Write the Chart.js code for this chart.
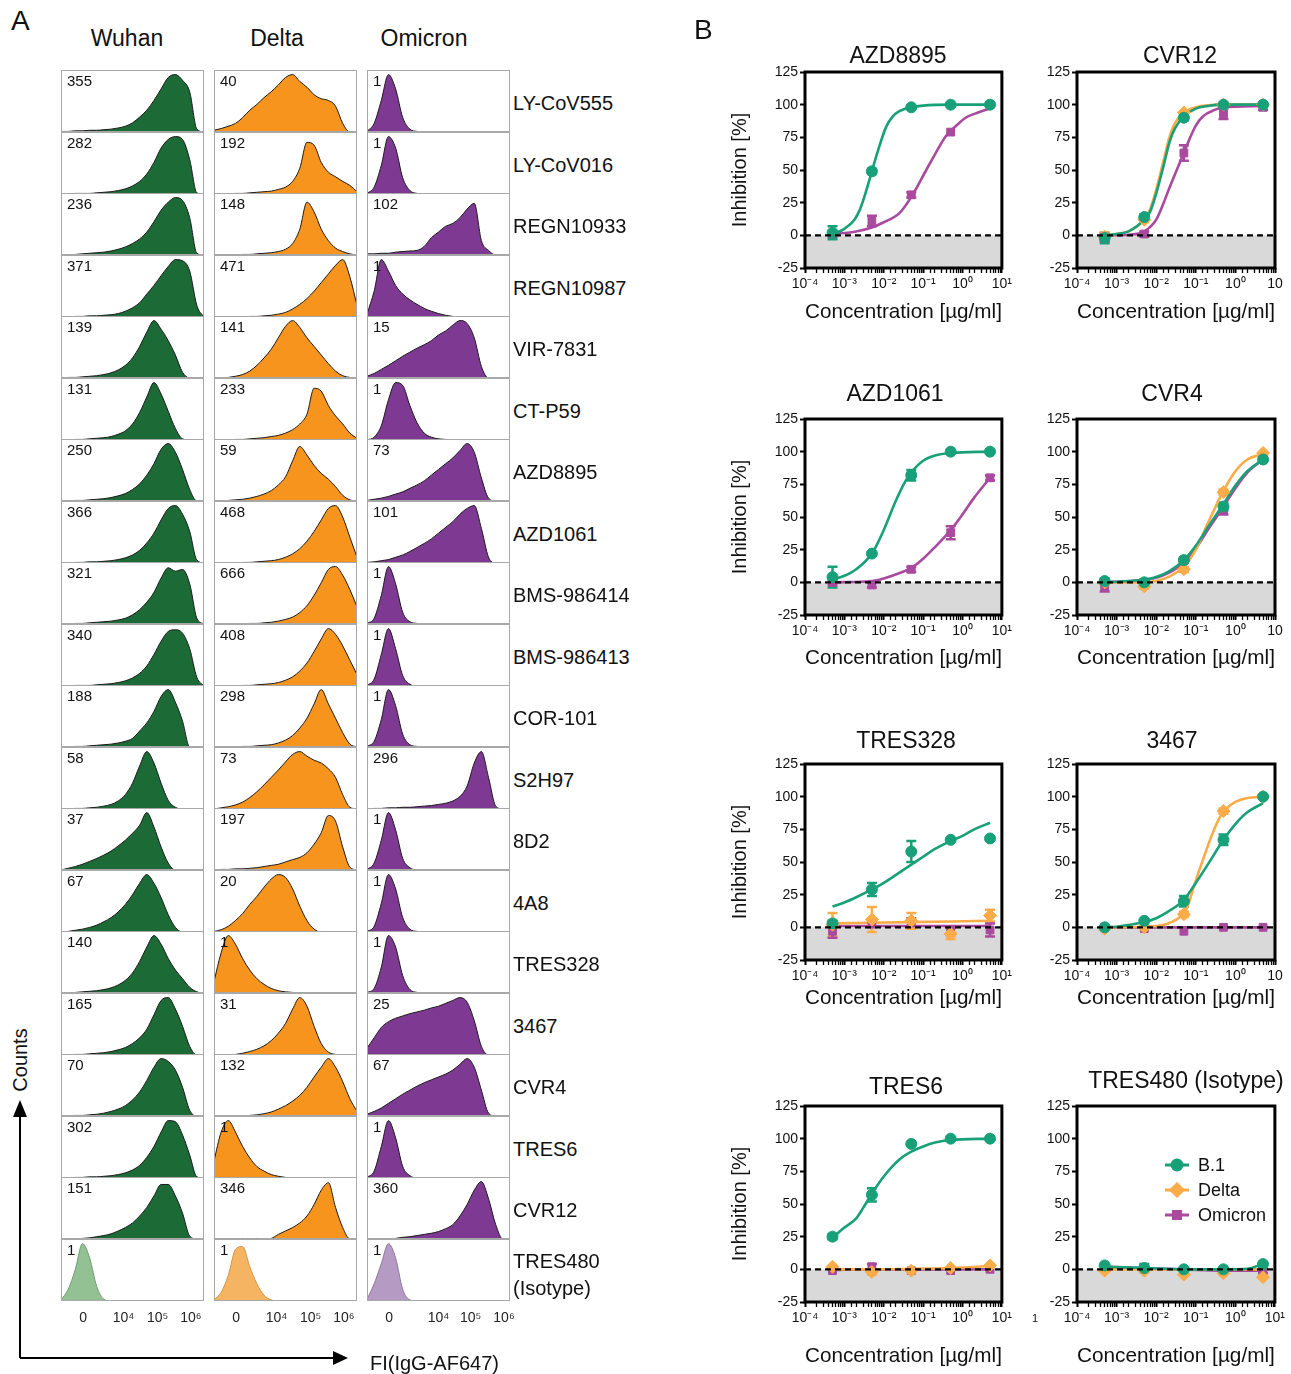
<!DOCTYPE html>
<html>
<head>
<meta charset="utf-8">
<script src="https://cdn.jsdelivr.net/npm/chart.js@4.4.1/dist/chart.umd.min.js"></script>
<style>
  body { margin: 0; background: #fff; }
  #page { position: relative; width: 1291px; height: 1374px; overflow: hidden; background: #fff;
          font-family: "Liberation Sans", Arial, Helvetica, sans-serif; color: #111; }
  .txt { position: absolute; white-space: pre; line-height: 1.15; }
  canvas { position: absolute; }
  svg { position: absolute; left: 0; top: 0; }
</style>
</head>
<body>
<div id="page"></div>
<script>
// ---------- Panel A: flow cytometry histograms ----------
const STRAINS = ['Wuhan', 'Delta', 'Omicron'];
const ANTIBODIES = ['LY-CoV555', 'LY-CoV016', 'REGN10933', 'REGN10987', 'VIR-7831', 'CT-P59', 'AZD8895', 'AZD1061',
    'BMS-986414', 'BMS-986413', 'COR-101', 'S2H97', '8D2', '4A8', 'TRES328', '3467', 'CVR4', 'TRES6', 'CVR12',
    'TRES480\n(Isotype)'];
const WUHAN_MFI = ['355', '282', '236', '371', '139', '131', '250', '366', '321', '340', '188', '58', '37', '67', '140', '165', '70', '302', '151', '1'];
const DELTA_MFI = ['40', '192', '148', '471', '141', '233', '59', '468', '666', '408', '298', '73', '197', '20', '1', '31', '132', '1', '346', '1'];
const OMICRON_MFI = ['1', '1', '102', '1', '15', '1', '73', '101', '1', '1', '1', '296', '1', '1', '1', '25', '67', '1', '360', '1'];

// fluorescence channel bins (display scale 0..100) and the labelled ticks
const FI_BINS = [0, 5, 10, 15, 20, 25, 30, 35, 40, 45, 50, 55, 60, 65, 70, 75, 80, 85, 90, 95, 100];
const FI_TICK_LABELS = ['0', '10⁴', '10⁵', '10⁶'];
const FI_TICKS = [[15.5, 43.7, 67.6, 90.8], [15.5, 43.7, 67.6, 90.8], [15.5, 50, 72.5, 95.8]];

// relative counts per bin, one row per antibody
const WUHAN_HIST = [
    [1, 1, 2, 2, 3, 3, 4, 5, 7, 10, 16, 26, 38, 55, 75, 95, 100, 90, 70, 5, 0],
    [0, 0, 1, 1, 1, 2, 3, 4, 6, 9, 14, 22, 35, 55, 80, 95, 100, 95, 60, 2, 0],
    [0, 0, 1, 2, 3, 4, 5, 7, 10, 14, 20, 28, 40, 58, 78, 92, 100, 95, 65, 3, 0],
    [0, 0, 1, 1, 2, 2, 3, 4, 6, 10, 16, 25, 40, 55, 72, 88, 100, 98, 80, 20, 0],
    [0, 1, 1, 2, 3, 4, 6, 9, 14, 22, 35, 55, 80, 100, 85, 65, 40, 10, 0, 0, 0],
    [0, 0, 1, 1, 2, 3, 4, 6, 10, 16, 28, 48, 75, 100, 80, 50, 20, 2, 0, 0, 0],
    [0, 0, 1, 1, 2, 3, 4, 6, 9, 13, 20, 30, 45, 65, 90, 100, 85, 55, 20, 0, 0],
    [0, 0, 1, 1, 2, 2, 3, 4, 6, 9, 14, 22, 35, 52, 75, 95, 100, 85, 55, 5, 0],
    [0, 0, 1, 1, 2, 3, 4, 5, 7, 10, 16, 25, 38, 55, 80, 98, 92, 95, 70, 10, 0],
    [0, 0, 1, 1, 1, 2, 3, 4, 6, 9, 14, 22, 35, 55, 78, 95, 98, 92, 65, 15, 0],
    [0, 0, 1, 1, 2, 3, 4, 5, 7, 10, 15, 28, 42, 62, 88, 100, 78, 45, 0, 0, 0],
    [0, 0, 1, 1, 2, 3, 5, 8, 14, 25, 45, 75, 100, 80, 45, 15, 3, 0, 0, 0, 0],
    [0, 3, 6, 10, 15, 20, 26, 33, 42, 52, 64, 78, 100, 75, 40, 12, 0, 0, 0, 0, 0],
    [0, 1, 3, 5, 8, 12, 18, 25, 35, 48, 65, 85, 100, 85, 60, 30, 8, 0, 0, 0, 0],
    [0, 0, 1, 2, 3, 4, 6, 9, 14, 22, 35, 55, 80, 100, 85, 60, 40, 25, 10, 2, 0],
    [0, 0, 1, 1, 2, 3, 4, 6, 9, 13, 20, 30, 45, 70, 95, 100, 80, 50, 15, 0, 0],
    [0, 0, 1, 1, 2, 3, 5, 8, 12, 18, 28, 42, 62, 85, 100, 95, 80, 50, 10, 0, 0],
    [0, 0, 1, 1, 2, 2, 3, 4, 6, 9, 14, 22, 36, 55, 80, 100, 98, 75, 40, 2, 0],
    [0, 0, 0, 1, 2, 4, 6, 9, 14, 20, 28, 40, 55, 75, 95, 95, 75, 45, 5, 0, 0],
    [2, 20, 55, 100, 75, 25, 3, 0, 0, 0, 0, 0, 0, 0, 0, 0, 0, 0, 0, 0, 0]
];
const DELTA_HIST = [
    [3, 6, 10, 15, 25, 38, 48, 60, 70, 82, 95, 100, 88, 78, 65, 58, 55, 45, 15, 0, 0],
    [0, 0, 0, 1, 1, 2, 3, 4, 5, 8, 12, 22, 45, 90, 85, 55, 38, 30, 22, 15, 4],
    [0, 0, 0, 0, 1, 1, 2, 3, 4, 6, 10, 20, 45, 92, 75, 45, 25, 12, 6, 2, 0],
    [0, 0, 0, 0, 0, 1, 1, 2, 3, 5, 8, 14, 22, 32, 45, 60, 75, 90, 100, 70, 20],
    [0, 0, 1, 3, 6, 12, 22, 35, 50, 70, 90, 100, 88, 70, 55, 40, 25, 12, 4, 1, 0],
    [0, 0, 0, 1, 1, 2, 3, 4, 6, 8, 12, 18, 28, 45, 90, 85, 60, 42, 28, 12, 3],
    [0, 0, 1, 2, 3, 5, 8, 12, 18, 28, 42, 70, 95, 80, 62, 48, 38, 25, 10, 2, 0],
    [0, 0, 0, 0, 1, 1, 2, 3, 4, 6, 10, 16, 25, 38, 55, 75, 95, 100, 80, 45, 10],
    [0, 0, 0, 0, 0, 1, 1, 2, 3, 5, 8, 12, 20, 32, 50, 72, 95, 100, 85, 60, 30],
    [0, 0, 0, 0, 1, 1, 2, 3, 4, 6, 10, 16, 26, 40, 60, 82, 100, 90, 70, 45, 20],
    [0, 0, 0, 0, 1, 1, 2, 3, 4, 7, 12, 20, 33, 50, 75, 100, 75, 50, 25, 5, 0],
    [0, 2, 4, 7, 12, 20, 30, 42, 55, 68, 82, 95, 100, 92, 85, 80, 70, 55, 25, 3, 0],
    [0, 1, 1, 2, 2, 3, 4, 6, 8, 10, 14, 18, 22, 30, 45, 65, 95, 85, 40, 5, 0],
    [1, 4, 10, 20, 32, 48, 62, 78, 92, 100, 95, 75, 45, 20, 5, 0, 0, 0, 0, 0, 0],
    [20, 70, 100, 85, 60, 40, 25, 15, 8, 4, 2, 1, 0, 0, 0, 0, 0, 0, 0, 0, 0],
    [0, 0, 0, 1, 3, 6, 10, 16, 25, 38, 55, 80, 100, 85, 50, 20, 5, 1, 0, 0, 0],
    [0, 0, 0, 0, 0, 1, 2, 4, 7, 12, 18, 26, 36, 50, 68, 85, 100, 85, 60, 30, 8],
    [30, 80, 100, 80, 55, 35, 20, 12, 6, 3, 1, 0, 0, 0, 0, 0, 0, 0, 0, 0, 0],
    [0, 0, 0, 0, 1, 0, 1, 0, 1, 8, 14, 20, 28, 40, 60, 85, 98, 55, 20, 0, 0],
    [2, 15, 45, 90, 95, 60, 30, 10, 2, 0, 0, 0, 0, 0, 0, 0, 0, 0, 0, 0, 0]
];
const OMICRON_HIST = [
    [1, 15, 55, 100, 75, 25, 5, 1, 0, 0, 0, 0, 0, 0, 0, 0, 0, 0, 0, 0, 0],
    [1, 12, 50, 100, 80, 28, 6, 1, 0, 0, 0, 0, 0, 0, 0, 0, 0, 0, 0, 0, 0],
    [2, 2, 3, 3, 5, 6, 7, 8, 15, 30, 40, 50, 55, 65, 80, 90, 25, 8, 0, 0, 0],
    [5, 45, 100, 80, 55, 40, 30, 22, 15, 10, 6, 3, 1, 0, 0, 0, 0, 0, 0, 0, 0],
    [3, 8, 15, 22, 30, 38, 45, 52, 58, 65, 75, 82, 92, 100, 95, 70, 20, 0, 0, 0, 0],
    [0, 5, 25, 70, 100, 95, 60, 30, 12, 5, 2, 1, 0, 0, 0, 0, 0, 0, 0, 0, 0],
    [1, 3, 5, 8, 12, 16, 22, 28, 35, 45, 55, 65, 75, 88, 100, 85, 40, 5, 0, 0, 0],
    [1, 2, 4, 6, 10, 14, 20, 27, 34, 42, 52, 62, 72, 85, 95, 100, 60, 10, 0, 0, 0],
    [1, 10, 50, 100, 70, 20, 4, 1, 0, 0, 0, 0, 0, 0, 0, 0, 0, 0, 0, 0, 0],
    [1, 12, 55, 100, 65, 18, 3, 0, 0, 0, 0, 0, 0, 0, 0, 0, 0, 0, 0, 0, 0],
    [1, 10, 48, 100, 72, 22, 4, 1, 0, 0, 0, 0, 0, 0, 0, 0, 0, 0, 0, 0, 0],
    [0, 1, 1, 2, 2, 3, 3, 4, 5, 6, 8, 10, 14, 22, 40, 80, 100, 55, 5, 0, 0],
    [1, 12, 52, 100, 70, 20, 4, 0, 0, 0, 0, 0, 0, 0, 0, 0, 0, 0, 0, 0, 0],
    [1, 10, 50, 100, 75, 25, 5, 1, 0, 0, 0, 0, 0, 0, 0, 0, 0, 0, 0, 0, 0],
    [1, 8, 45, 100, 80, 30, 6, 1, 0, 0, 0, 0, 0, 0, 0, 0, 0, 0, 0, 0, 0],
    [12, 30, 48, 58, 64, 68, 72, 75, 78, 82, 85, 90, 95, 100, 92, 60, 15, 0, 0, 0, 0],
    [3, 8, 14, 22, 30, 38, 45, 52, 58, 63, 68, 73, 80, 90, 100, 85, 45, 5, 0, 0, 0],
    [1, 12, 55, 100, 70, 20, 4, 0, 0, 0, 0, 0, 0, 0, 0, 0, 0, 0, 0, 0, 0],
    [0, 0, 0, 0, 1, 3, 4, 6, 8, 10, 13, 18, 25, 40, 60, 85, 100, 70, 25, 0, 0],
    [3, 30, 65, 100, 75, 20, 2, 0, 0, 0, 0, 0, 0, 0, 0, 0, 0, 0, 0, 0, 0]
];

// ---------- Panel B: neutralisation curves ----------
const PANELS = ['AZD8895', 'CVR12', 'AZD1061', 'CVR4', 'TRES328', '3467', 'TRES6', 'TRES480 (Isotype)'];
const VARIANTS = ['B.1', 'Delta', 'Omicron'];
const CONC = [0.0005, 0.005, 0.05, 0.5, 5];
const Y_TICKS = [-25, 0, 25, 50, 75, 100, 125];
const X_TICK_LABELS = ['10⁻⁴', '10⁻³', '10⁻²', '10⁻¹', '10⁰', '10¹'];
const X_TICK_LABELS_SHORT = ['10⁻⁴', '10⁻³', '10⁻²', '10⁻¹', '10⁰', '10'];

const B1_MEAN = [[2, 49, 98, 100, 100], [-2, 14, 90, 100, 100], [4, 22, 82, 100, 100], [1, 0, 17, 58, 94],
    [3, 29, 58, 67, 68], [0, 5, 20, 67, 100], [25, 57, 96, 100, 100], [3, 1, 0, 0, 4]];
const B1_ERR = [[5, 2, 1, 0, 0], [4, 2, 2, 1, 1], [8, 1, 4, 1, 0], [2, 2, 2, 3, 2],
    [2, 5, 8, 1, 1], [1, 1, 4, 4, 1], [2, 5, 1, 1, 1], [1, 3, 1, 1, 1]];
const DELTA_MEAN = [null, [-1, 12, 94, 100, 100], null, [0, -3, 10, 69, 99],
    [2, 6, 5, -5, 9], [-1, 0, 10, 89, 100], [2, -2, -1, 1, 3], [-1, -1, -4, -3, -6]];
const DELTA_ERR = [null, [3, 2, 1, 1, 1], null, [2, 2, 2, 2, 1],
    [9, 9.5, 6, 4, 4.5], [1, 1, 2, 2, 1], [1, 2, 1, 1, 1], [1, 1, 1, 1, 1]];
const OMICRON_MEAN = [[1, 11, 31, 79, 100], [-2, 1, 63, 93, 98], [0, -2, 10, 38, 80], [-4, 0, 17, 55, 95],
    [-3, 3, 4, -3, -2], [0, -1, -3, 0, 0], [-1, 2, -1, -1, 0], [2, 0, -1, -2, -1]];
const OMICRON_ERR = [[2, 4, 2, 1, 1], [3, 2, 6, 4, 2], [2, 2, 2, 5, 2], [3, 2, 2, 3, 2],
    [5, 3, 3, 3, 5], [1, 1, 1, 1, 1], [1, 2, 1, 1, 1], [1, 1, 1, 1, 2]];

// fitted curves as [concentration, inhibition]
const B1_FIT = [
    [[5e-4, 1], [1e-3, 5], [1.8e-3, 12], [2.5e-3, 20], [3.5e-3, 33], [5e-3, 49], [7e-3, 64], [1.15e-2, 83], [1.7e-2, 91], [2.5e-2, 95], [5e-2, 98], [0.1, 99.3], [0.5, 100], [5, 100]],
    [[5e-4, 0], [1e-3, 1], [2e-3, 3], [5e-3, 12], [7e-3, 18], [1e-2, 32], [1.5e-2, 52], [2.2e-2, 72], [3e-2, 82], [5e-2, 91], [0.1, 97], [0.2, 99], [0.5, 100], [5, 100]],
    [[5e-4, 2], [1e-3, 5], [2e-3, 10], [5e-3, 22], [1e-2, 40], [2e-2, 62], [3.5e-2, 77], [5e-2, 84], [0.1, 93], [0.2, 97], [0.5, 99], [5, 100]],
    [[5e-4, 0], [1e-3, 0.5], [5e-3, 2], [1e-2, 4], [2e-2, 8], [5e-2, 17], [0.1, 28], [0.2, 42], [0.5, 60], [1, 74], [2, 85], [5, 94]],
    [[5e-4, 16], [1e-3, 19], [2e-3, 23], [5e-3, 29], [1e-2, 34], [2e-2, 40], [5e-2, 48], [0.1, 54], [0.2, 60], [0.5, 66], [1, 70], [2, 75], [5, 80]],
    [[5e-4, 0], [1e-3, 0.5], [5e-3, 4], [1e-2, 7], [2e-2, 12], [5e-2, 21], [0.1, 34], [0.2, 48], [0.5, 67], [1, 79], [2, 88], [5, 95]],
    [[5e-4, 24], [7.6e-4, 29], [1e-3, 32], [2e-3, 39], [3e-3, 47], [5e-3, 58], [1e-2, 71], [2.5e-2, 84], [5e-2, 90], [0.1, 94], [0.2, 97], [0.5, 99], [5, 100]],
    [[5e-4, 2], [5e-3, 1], [5e-2, 0], [0.5, 0], [2, 0.5], [5, 4]]
];
const DELTA_FIT = [
    null,
    [[5e-4, 0], [1e-3, 1], [2e-3, 3], [5e-3, 12], [7e-3, 20], [1e-2, 35], [1.5e-2, 56], [2.2e-2, 76], [3e-2, 86], [5e-2, 94], [0.1, 98], [0.2, 99.5], [0.5, 100], [5, 100]],
    null,
    [[5e-4, 0], [5e-3, 0], [1e-2, 1], [2e-2, 4], [5e-2, 12], [0.1, 25], [0.2, 45], [0.5, 70], [1, 85], [2, 94], [5, 98]],
    [[5e-4, 3], [5e-3, 3.5], [5e-2, 4], [0.5, 4.5], [5, 5]],
    [[5e-4, 0], [5e-3, 0.5], [1e-2, 1], [2e-2, 3], [4e-2, 8], [6e-2, 15], [0.1, 36], [0.17, 56], [0.25, 70], [0.4, 84], [0.6, 91], [1, 96], [2, 99], [5, 100]],
    [[5e-4, 0], [5e-3, 0], [5e-2, 0.5], [0.5, 1], [5, 2.5]],
    [[5e-4, 0], [5e-3, 0], [5e-2, 0], [0.5, 0], [5, 0]]
];
const OMICRON_FIT = [
    [[5e-4, 1], [2e-3, 3], [5e-3, 6], [1e-2, 10], [2.5e-2, 17], [5.4e-2, 31], [0.12, 50], [0.2, 62], [0.38, 76], [0.7, 84], [1.2, 90], [2.5, 94], [5, 97]],
    [[5e-4, 0], [2e-3, 0.5], [5e-3, 3], [1e-2, 12], [1.5e-2, 24], [2.2e-2, 37], [3.3e-2, 50], [5e-2, 63], [7e-2, 74], [0.1, 84], [0.15, 91], [0.3, 96], [0.5, 98], [5, 99]],
    [[5e-4, 0], [5e-3, 1], [1e-2, 3], [2e-2, 6], [5e-2, 11], [0.1, 18], [0.2, 27], [0.5, 40], [1, 52], [2, 65], [5, 80]],
    [[5e-4, 0], [1e-3, 0.5], [5e-3, 2], [1e-2, 3.5], [2e-2, 7], [5e-2, 15], [0.1, 26], [0.2, 40], [0.5, 58], [1, 72], [2, 84], [5, 94]],
    [[5e-4, 1], [5e-3, 1], [5e-2, 1], [0.5, 1], [5, 1]],
    [[5e-4, 0], [5e-3, 0], [5e-2, 0], [0.5, 0], [5, 0]],
    [[5e-4, -0.5], [5e-3, 0], [5e-2, 0], [0.5, 0], [5, 0]],
    [[5e-4, 2], [5e-3, 1], [5e-2, 0], [0.5, -1], [5, -1]]
];

// ---------- styling / layout ----------
const FONT = '"Liberation Sans", Arial, Helvetica, sans-serif';
const HIST_DARK = ['#1c6a36', '#f7941e', '#7e3a93'];
const HIST_LIGHT = ['#93c194', '#f4b462', '#b59bc3'];
const HIST_LIGHT_EDGE = ['#6e9c70', '#d3954a', '#8e7a9c'];
const VARIANT_COLOR = ['#18a078', '#fbab48', '#a94a9f'];
const VARIANT_SHAPE = ['circle', 'rectRot', 'rect'];
const VARIANT_RADIUS = [5.5, 6.5, 5.5];

const HIST_LEFT = [61, 214, 367];
const HIST_TOP = 70;
const HIST_ROW_H = 61.5;
const HIST_W = 143;
const HIST_H = 62;
const HIST_AXIS_H = 28;
const HIST_AXIS_OVERHANG = 14;

const PLOT_TOP = [72, 419, 764, 1106];
const PLOT_BOTTOM = [268, 615, 960, 1302];
const X_AXIS_H = [60, 59, 54, 70];
const PLOT_LEFT = [805, 1077];
const PLOT_RIGHT = [1003, 1275];
const CANVAS_LEFT = [722, 1036];
const CANVAS_RIGHT = [1015, 1288];
const TITLE_POS = [[898, 55], [1180, 55], [895, 393], [1172, 393], [906, 740], [1172, 740], [906, 1086], [1186, 1080]];

Chart.defaults.font.family = FONT;
Chart.defaults.color = '#111';

const page = document.getElementById('page');

function addCanvas(x, y, w, h) {
    const cv = document.createElement('canvas');
    cv.width = w;
    cv.height = h;
    cv.style.left = x + 'px';
    cv.style.top = y + 'px';
    cv.style.width = w + 'px';
    cv.style.height = h + 'px';
    page.appendChild(cv);
    return cv;
}

function addText(str, x, y, size, align) {
    const el = document.createElement('div');
    el.className = 'txt';
    el.textContent = str;
    el.style.left = x + 'px';
    el.style.top = y + 'px';
    el.style.fontSize = size + 'px';
    el.style.transform = align === 'left' ? 'translate(0,-50%)' : 'translate(-50%,-50%)';
    page.appendChild(el);
    return el;
}

// grey box round each histogram cell, and its count in the corner
const cellBox = {
    id: 'cellBox',
    afterDraw(chart, args, opts) {
        const { ctx, chartArea: a } = chart;
        ctx.save();
        ctx.strokeStyle = '#a8a8a8';
        ctx.lineWidth = 1;
        ctx.strokeRect(a.left + 0.5, a.top + 0.5, a.right - a.left - 1, a.bottom - a.top - 1);
        ctx.fillStyle = '#111';
        ctx.font = '15px ' + FONT;
        ctx.textBaseline = 'top';
        ctx.fillText(opts.label, a.left + 6, a.top + 4);
        ctx.restore();
    }
};

function drawHistogram(col, row) {
    const values = [WUHAN_HIST, DELTA_HIST, OMICRON_HIST][col][row];
    const count = [WUHAN_MFI, DELTA_MFI, OMICRON_MFI][col][row];
    const isotype = row === ANTIBODIES.length - 1;
    const top = Math.round(HIST_TOP + row * HIST_ROW_H);
    // the bottom row is wider and taller so its tick labels have room
    const extraW = isotype ? HIST_AXIS_OVERHANG : 0;
    const cv = addCanvas(HIST_LEFT[col], top, HIST_W + extraW, HIST_H + (isotype ? HIST_AXIS_H : 0));
    const xScale = {
        type: 'linear', min: 0, max: 100, display: isotype,
        grid: { display: false, drawTicks: false },
        border: { display: false },
        afterBuildTicks: s => { s.ticks = FI_TICKS[col].map(v => ({ value: v })); },
        ticks: { autoSkip: false, maxRotation: 0, padding: 9, color: '#222', font: { size: 14 },
            callback: (v, k) => FI_TICK_LABELS[k] }
    };
    if (isotype) {
        xScale.afterFit = s => {
            s.height = HIST_AXIS_H;
            s.paddingLeft = 0;
            s.paddingRight = 0;
        };
    }
    new Chart(cv, {
        type: 'line',
        data: {
            datasets: [{
                data: values.map((v, i) => ({ x: FI_BINS[i], y: v })),
                fill: 'origin',
                backgroundColor: isotype ? HIST_LIGHT[col] : HIST_DARK[col],
                borderColor: isotype ? HIST_LIGHT_EDGE[col] : '#1a1a1a',
                borderWidth: 1,
                pointRadius: 0,
                cubicInterpolationMode: 'monotone'
            }]
        },
        options: {
            animation: false,
            responsive: false,
            events: [],
            layout: { padding: { left: 0, top: 0, bottom: 0, right: extraW }, autoPadding: false },
            plugins: { legend: { display: false }, tooltip: { enabled: false }, cellBox: { label: count } },
            scales: {
                x: xScale,
                y: { display: false, min: 0, max: 108 }
            }
        },
        plugins: [cellBox]
    });
}

function isPow10(v) {
    const l = Math.log10(v);
    return Math.abs(l - Math.round(l)) < 1e-6;
}

// grey negative band, error bars, dashed zero line, heavy frame and legend
const doseDecor = {
    id: 'doseDecor',
    beforeDatasetsDraw(chart) {
        const { ctx, chartArea: a, scales: { x, y } } = chart;
        const y0 = y.getPixelForValue(0);
        ctx.save();
        ctx.fillStyle = '#d9d9d9';
        ctx.fillRect(a.left, y0, a.right - a.left, a.bottom - y0);
        chart.data.datasets.forEach(ds => {
            if (!ds.errors) return;
            ctx.strokeStyle = ds.borderColor;
            ctx.lineWidth = 2.5;
            ds.data.forEach((p, k) => {
                const e = ds.errors[k];
                if (!e || e < 1.5) return;
                const px = x.getPixelForValue(p.x);
                const t = y.getPixelForValue(p.y + e);
                const b = y.getPixelForValue(p.y - e);
                ctx.beginPath();
                ctx.moveTo(px, t); ctx.lineTo(px, b);
                ctx.moveTo(px - 5, t); ctx.lineTo(px + 5, t);
                ctx.moveTo(px - 5, b); ctx.lineTo(px + 5, b);
                ctx.stroke();
            });
        });
        ctx.restore();
    },
    afterDatasetsDraw(chart, args, opts) {
        const { ctx, chartArea: a, scales: { y } } = chart;
        const y0 = y.getPixelForValue(0);
        ctx.save();
        ctx.strokeStyle = '#000';
        ctx.lineWidth = 2.2;
        ctx.setLineDash([6, 4]);
        ctx.beginPath();
        ctx.moveTo(a.left, y0);
        ctx.lineTo(a.right, y0);
        ctx.stroke();
        ctx.setLineDash([]);
        ctx.lineWidth = 3;
        ctx.strokeRect(a.left, a.top, a.right - a.left, a.bottom - a.top);
        if (opts.legend) {
            ctx.font = '18px ' + FONT;
            ctx.textBaseline = 'middle';
            VARIANTS.forEach((name, v) => {
                const ly = a.top + 59 + v * 25;
                const lx = a.left + 88;
                ctx.strokeStyle = VARIANT_COLOR[v];
                ctx.fillStyle = VARIANT_COLOR[v];
                ctx.lineWidth = 3;
                ctx.beginPath();
                ctx.moveTo(lx, ly);
                ctx.lineTo(lx + 24, ly);
                ctx.stroke();
                Chart.helpers.drawPoint(ctx, { pointStyle: VARIANT_SHAPE[v], radius: VARIANT_RADIUS[v] - 0.5, rotation: 0, borderWidth: 1 }, lx + 12, ly);
                ctx.fillStyle = '#111';
                ctx.fillText(name, lx + 33, ly + 1);
            });
        }
        ctx.restore();
    }
};

function drawDose(i) {
    const col = i % 2;
    const row = Math.floor(i / 2);
    const top = PLOT_TOP[row];
    const xh = X_AXIS_H[row];
    const cv = addCanvas(CANVAS_LEFT[col], top - 12, CANVAS_RIGHT[col] - CANVAS_LEFT[col], PLOT_BOTTOM[row] - top + 12 + xh);
    const labels = (col === 1 && row < 3) ? X_TICK_LABELS_SHORT : X_TICK_LABELS;
    const means = [B1_MEAN, DELTA_MEAN, OMICRON_MEAN];
    const errs = [B1_ERR, DELTA_ERR, OMICRON_ERR];
    const fits = [B1_FIT, DELTA_FIT, OMICRON_FIT];
    const datasets = [];
    VARIANTS.forEach((name, v) => {
        if (!means[v][i]) return;
        datasets.push({
            label: name,
            data: CONC.map((c, k) => ({ x: c, y: means[v][i][k] })),
            errors: errs[v][i],
            showLine: false,
            pointStyle: VARIANT_SHAPE[v],
            pointRadius: VARIANT_RADIUS[v],
            backgroundColor: VARIANT_COLOR[v],
            borderColor: VARIANT_COLOR[v],
            pointBorderWidth: 1,
            order: v
        });
        datasets.push({
            label: name + ' fit',
            data: fits[v][i].map(([x, y]) => ({ x, y })),
            pointRadius: 0,
            borderWidth: 2.6,
            borderColor: VARIANT_COLOR[v],
            cubicInterpolationMode: 'monotone',
            order: 3 + v
        });
    });
    new Chart(cv, {
        type: 'line',
        data: { datasets },
        options: {
            animation: false,
            responsive: false,
            events: [],
            layout: { padding: { top: 12, right: CANVAS_RIGHT[col] - PLOT_RIGHT[col], left: 0, bottom: 0 }, autoPadding: false },
            plugins: { legend: { display: false }, tooltip: { enabled: false }, doseDecor: { legend: i === 7 } },
            scales: {
                x: {
                    type: 'logarithmic', min: 1e-4, max: 10,
                    grid: { drawOnChartArea: false, drawTicks: true, tickLength: 5, tickColor: '#000',
                        tickWidth: c => (c.tick && isPow10(c.tick.value)) ? 2 : 1.3 },
                    border: { display: false },
                    ticks: { autoSkip: false, maxRotation: 0, padding: 3, color: '#111', font: { size: 14 },
                        callback: v => isPow10(v) ? labels[Math.round(Math.log10(v)) + 4] : '' },
                    title: { display: true, text: 'Concentration [µg/ml]', color: '#111', font: { size: 21 },
                        padding: { top: 0, bottom: 3 } },
                    afterFit: s => { s.height = xh; }
                },
                y: {
                    min: -25, max: 125,
                    afterBuildTicks: s => { s.ticks = Y_TICKS.map(v => ({ value: v })); },
                    grid: { drawOnChartArea: false, drawTicks: true, tickLength: 5, tickColor: '#000', tickWidth: 2 },
                    border: { display: false },
                    ticks: { padding: 2, color: '#111', font: { size: 14 } },
                    title: { display: col === 0, text: 'Inhibition [%]', color: '#111', font: { size: 20 },
                        padding: { top: 6, bottom: 0 } },
                    afterFit: s => { s.width = PLOT_LEFT[col] - CANVAS_LEFT[col]; }
                }
            }
        },
        plugins: [doseDecor]
    });
    addText(PANELS[i], TITLE_POS[i][0], TITLE_POS[i][1], 23);
}

// ---------- build panel A ----------
addText('A', 11, 21, 28, 'left');
STRAINS.forEach((s, c) => addText(s, [127, 277, 424][c], 38, 23));
ANTIBODIES.forEach((name, r) => {
    for (let c = 0; c < 3; c++) drawHistogram(c, r);
    const cy = Math.round(HIST_TOP + r * HIST_ROW_H) + 33 + (name.includes('\n') ? 3 : 0);
    const el = addText(name, 513, cy, 20, 'left');
    if (name.includes('\n')) el.style.lineHeight = '27px';
});
addText('Counts', 20, 1060, 20).style.transform = 'translate(-50%,-50%) rotate(-90deg)';
addText('FI(IgG-AF647)', 370, 1363, 20, 'left');

const svgNS = 'http://www.w3.org/2000/svg';
const svg = document.createElementNS(svgNS, 'svg');
svg.setAttribute('width', 1291);
svg.setAttribute('height', 1374);
svg.innerHTML =
    '<path d="M20 1358 V1114 M20 1358 H334" stroke="#000" stroke-width="2" fill="none"/>' +
    '<polygon points="13,1117 27,1117 20,1100" fill="#000"/>' +
    '<polygon points="333,1351 333,1365 348,1358" fill="#000"/>';
page.appendChild(svg);

// ---------- build panel B ----------
addText('B', 694, 30, 28, 'left');
PANELS.forEach((p, i) => drawDose(i));
addText('1', 1035, 1318, 11);
</script>
</body>
</html>
